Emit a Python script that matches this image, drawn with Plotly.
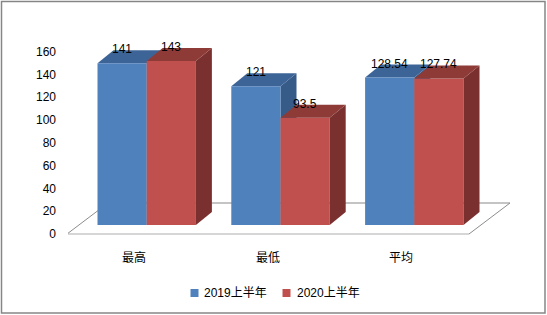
import plotly.graph_objects as go

# ---------------- data ----------------
categories = ["最高", "最低", "平均"]
series_names = ["2019上半年", "2020上半年"]
values_2019 = [141, 121, 128.54]
values_2020 = [143, 93.5, 127.74]
y_ticks = [0, 20, 40, 60, 80, 100, 120, 140, 160]

# ---------------- styles ----------------
FRONT = ["#4F81BD", "#C0504D"]
TOP = ["#3D6496", "#8E3B38"]
SIDE = ["#375B88", "#7A302E"]
NUM_FONT = "Liberation Sans, Arial, sans-serif"
CJK_FONT = "Noto Sans CJK SC, sans-serif"

# ---------------- geometry (pixels) ----------------
W, H = 547, 315
PL, PR, PT, PB = 68, 510, 40, 240
X_SPACING = 133.8
X0PX = 146.7
x_range = [(PL - X0PX) / X_SPACING, (PR - X0PX) / X_SPACING]
K = 1.147          # px per unit (bar front faces)
ZERO_BAR = 225
y_range = [-(PB - ZERO_BAR) / K, (ZERO_BAR - PT) / K]
K2 = 1.1406        # px per unit (axis wall)
ZERO_AX = 234
y2_range = [-(PB - ZERO_AX) / K2, (ZERO_AX - PT) / K2]
BW = 49.2 / X_SPACING
DX = 16 / X_SPACING
DY = 13 / K


def px_x(px):
    return (px - X0PX) / X_SPACING


def px_y2(py):
    return (ZERO_AX - py) / K2


def paper_x(px):
    return (px - PL) / (PR - PL)


def paper_y(py):
    return (PB - py) / (PB - PT)


xs = list(range(len(categories)))
fig = go.Figure()

series = [values_2019, values_2020]
offsets = [-BW, 0]
for s, vals in enumerate(series):
    fig.add_trace(go.Bar(
        x=xs, y=vals, width=BW, offset=offsets[s],
        marker=dict(color=FRONT[s], line=dict(width=0)),
        name=series_names[s], showlegend=False, hoverinfo="skip",
    ))

# dummy trace to carry the visible value axis
fig.add_trace(go.Scatter(x=[0], y=[0], yaxis="y2", mode="markers",
                         marker=dict(opacity=0), showlegend=False, hoverinfo="skip"))

shapes = []
# floor and wall lines
shapes.append(dict(type="line", xref="x", yref="y2", x0=px_x(67), y0=0, x1=px_x(469), y1=0,
                   line=dict(color="#D6D6D6", width=2), layer="below"))
shapes.append(dict(type="line", xref="x", yref="y2", x0=px_x(108), y0=px_y2(203), x1=px_x(510), y1=px_y2(203),
                   line=dict(color="#C4C4C4", width=2), layer="below"))
shapes.append(dict(type="line", xref="x", yref="y2", x0=px_x(67), y0=0, x1=px_x(108), y1=px_y2(203),
                   line=dict(color="#8C8C8C", width=1), layer="below"))
shapes.append(dict(type="line", xref="x", yref="y2", x0=px_x(469), y0=0, x1=px_x(510), y1=px_y2(203),
                   line=dict(color="#8C8C8C", width=1), layer="below"))
shapes.append(dict(type="line", xref="x", yref="y2", x0=px_x(67), y0=0, x1=px_x(67), y1=160,
                   line=dict(color="#A6A6A6", width=1.5), layer="below"))


def quad(pts):
    return "M " + " L ".join(f"{x},{y}" for x, y in pts) + " Z"


for s, vals in enumerate(series):
    layer = "below" if s == 0 else "above"
    for i, v in enumerate(vals):
        x0 = i + offsets[s]
        x1 = x0 + BW
        top = [(x0, v), (x1, v), (x1 + DX, v + DY), (x0 + DX, v + DY)]
        side = [(x1, 0), (x1, v), (x1 + DX, v + DY), (x1 + DX, DY)]
        shapes.append(dict(type="path", xref="x", yref="y", path=quad(side),
                           fillcolor=SIDE[s], line=dict(width=0), layer=layer))
        shapes.append(dict(type="path", xref="x", yref="y", path=quad(top),
                           fillcolor=TOP[s], line=dict(width=0), layer=layer))

# outer border
shapes.append(dict(type="rect", xref="paper", yref="paper",
                   x0=paper_x(1.5), x1=paper_x(545), y0=paper_y(313), y1=paper_y(1.5),
                   line=dict(color="#868686", width=1.5), layer="above"))

annotations = []
# data labels
for s, vals in enumerate(series):
    for i, v in enumerate(vals):
        annotations.append(dict(
            x=i + offsets[s] + BW / 2, y=v + DY, xref="x", yref="y",
            text=f"{v:g}", showarrow=False, yanchor="middle", yshift=1,
            font=dict(family=NUM_FONT, size=12, color="#000000"),
        ))
# category labels
for i, c in enumerate(categories):
    annotations.append(dict(
        x=i, y=paper_y(256), xref="x", yref="paper", xshift=-13,
        text=c, showarrow=False, yanchor="middle",
        font=dict(family=CJK_FONT, size=12, color="#000000"),
    ))
# legend (manual)
legend_sq_px = [194.5, 286.5]
legend_txt_px = [202, 295]
for s, name in enumerate(series_names):
    cx = legend_sq_px[s]
    shapes.append(dict(type="rect", xref="paper", yref="paper",
                       x0=paper_x(cx - 4), x1=paper_x(cx + 4), y0=paper_y(297), y1=paper_y(289),
                       fillcolor=FRONT[s], line=dict(width=0)))
    annotations.append(dict(
        x=paper_x(legend_txt_px[s]), y=paper_y(293), xref="paper", yref="paper",
        xanchor="left", yanchor="middle", text=name, showarrow=False,
        font=dict(family="Liberation Sans, Noto Sans CJK SC, sans-serif", size=12, color="#000000"),
    ))

fig.update_layout(
    width=W, height=H, autosize=False,
    margin=dict(l=PL, r=W - PR, t=PT, b=H - PB, pad=0),
    paper_bgcolor="white", plot_bgcolor="white",
    barmode="overlay",
    showlegend=False,
    xaxis=dict(range=x_range, visible=False, fixedrange=True),
    yaxis=dict(range=y_range, visible=False, fixedrange=True),
    yaxis2=dict(range=y2_range, overlaying="y", side="left", tickvals=y_ticks,
                ticktext=[str(t) for t in y_ticks], showgrid=False, zeroline=False,
                showline=False, ticks="", ticklabelstandoff=11,
                tickfont=dict(family=NUM_FONT, size=12, color="#000000"), fixedrange=True),
    shapes=shapes,
    annotations=annotations,
)

fig.write_html("out.html")
